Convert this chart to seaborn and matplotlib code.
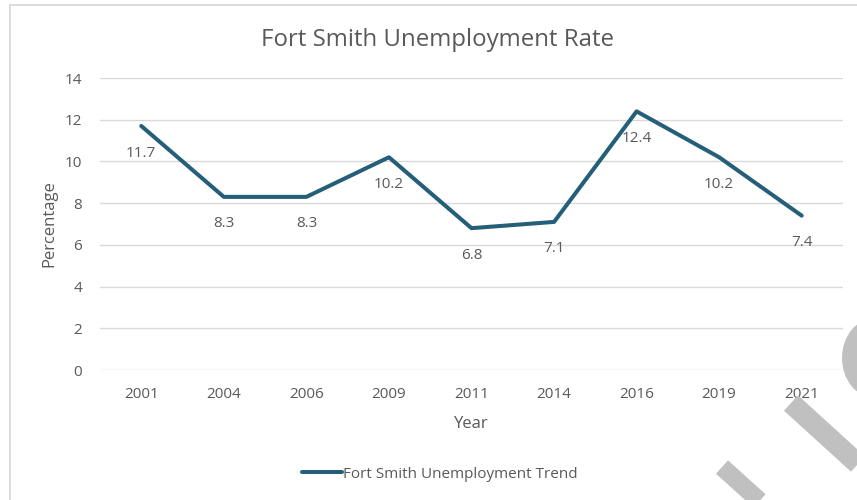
import matplotlib
matplotlib.use("Agg")
import matplotlib.pyplot as plt
from matplotlib.patches import Rectangle, Ellipse
from matplotlib.lines import Line2D
import seaborn as sns
import pandas as pd

# Unemployment rate by year
years = ["2001", "2004", "2006", "2009", "2011", "2014", "2016", "2019", "2021"]
rates = [11.7, 8.3, 8.3, 10.2, 6.8, 7.1, 12.4, 10.2, 7.4]
y_ticks = [0, 2, 4, 6, 8, 10, 12, 14]

title = "Fort Smith Unemployment Rate"
series_name = "Fort Smith Unemployment Trend"

LINE = "#255e79"
TEXT = "#595959"
GRID = "#d9d9d9"
FONT = "Open Sans"

df = pd.DataFrame({"Year": years, "Rate": rates})

sns.set_theme(style="white")
plt.rcParams["font.family"] = [FONT, "DejaVu Sans"]

W, H = 857, 500
fig = plt.figure(figsize=(W / 100, H / 100), dpi=100)
fig.patch.set_facecolor("white")

def fx(px):
    return px / W

def fy(py):
    return 1 - py / H

# chart frame
fig.add_artist(Rectangle((fx(10), fy(520)), fx(900), 515 / H, transform=fig.transFigure,
                         fill=False, edgecolor=GRID, linewidth=1.3))

ax = fig.add_axes([fx(100), fy(370), fx(843 - 100), (370 - 78) / H])
sns.lineplot(data=df, x="Year", y="Rate", ax=ax, color=LINE, linewidth=2.9,
             sort=False, legend=False)

ax.set_ylim(0, 14)
ax.set_xlim(-0.5, len(years) - 0.5)
ax.set_yticks(y_ticks)
ax.set_yticklabels([str(t) for t in y_ticks])
ax.yaxis.grid(True, color=GRID, linewidth=1.0)
ax.xaxis.grid(False)
for s in ax.spines.values():
    s.set_visible(False)
ax.tick_params(axis="both", length=0, labelsize=11, labelcolor=TEXT)
ax.tick_params(axis="y", pad=13)
ax.tick_params(axis="x", pad=12)

ax.set_xlabel("Year", fontsize=12, color=TEXT, labelpad=10)
ax.set_ylabel("Percentage", fontsize=12, color=TEXT, labelpad=5)

# value labels below each point
for i, v in enumerate(rates):
    ax.annotate(f"{v:g}", (i, v), xytext=(0, -19.5), textcoords="offset points",
                ha="center", va="center", fontsize=11, color=TEXT)

fig.text(fx(438), fy(40), title, ha="center", va="center", fontsize=17.3, color=TEXT)

handle = Line2D([], [], color=LINE, linewidth=2.9)
fig.legend([handle], [series_name], loc="center", bbox_to_anchor=(fx(440), fy(474)),
           frameon=False, fontsize=11, labelcolor=TEXT, handlelength=2.6,
           handletextpad=0.1)

# grey pen strokes across the lower right corner
gray = "#c0c0c0"
fig.add_artist(Line2D([fx(722), fx(775)], [fy(467), fy(515)], transform=fig.transFigure,
                      color=gray, linewidth=13, solid_capstyle="butt"))
fig.add_artist(Line2D([fx(791), fx(880)], [fy(403), fy(484)], transform=fig.transFigure,
                      color=gray, linewidth=15, solid_capstyle="butt"))
fig.add_artist(Ellipse((fx(875), fy(358)), fx(66), 80 / H, transform=fig.transFigure,
                       color=gray, linewidth=0))

fig.savefig("out.png", dpi=100)
